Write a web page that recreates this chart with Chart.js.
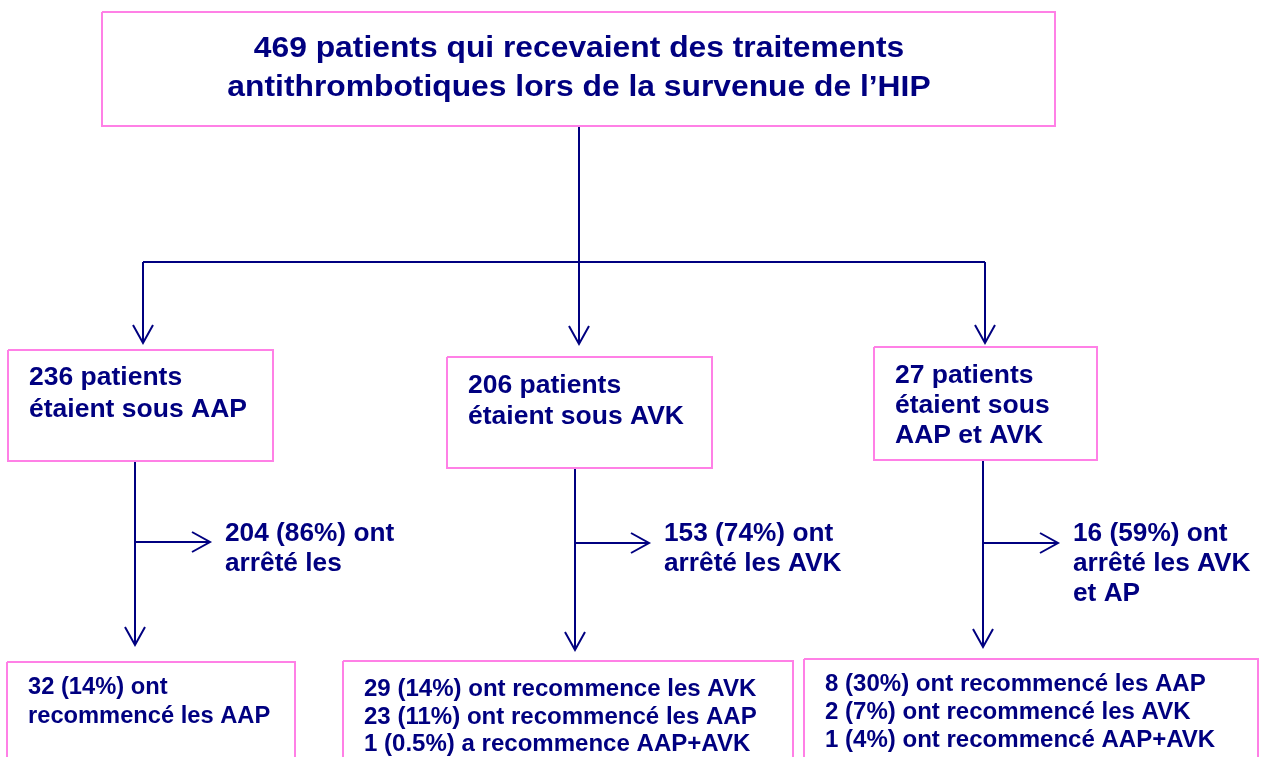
<!DOCTYPE html>
<html>
<head>
<meta charset="utf-8">
<script src="https://cdn.jsdelivr.net/npm/chart.js@4/dist/chart.umd.min.js"></script>
<style>
  html, body { margin: 0; padding: 0; background: #fff; }
  canvas { display: block; }
</style>
</head>
<body>
<canvas id="flow" width="1263" height="757"></canvas>
<script>
"use strict";

// Texts of the flow chart (the values)
const titleLines = ['469 patients qui recevaient des traitements', 'antithrombotiques lors de la survenue de l\u2019HIP'];
const groupLines = [
  ['236 patients', 'étaient sous AAP'],
  ['206 patients', 'étaient sous AVK'],
  ['27 patients', 'étaient sous', 'AAP et AVK']
];
const stoppedLines = [
  ['204 (86%) ont', 'arrêté les'],
  ['153 (74%) ont', 'arrêté les AVK'],
  ['16 (59%) ont', 'arrêté les AVK', 'et AP']
];
const restartLines = [
  ['32 (14%) ont', 'recommencé les AAP'],
  ['29 (14%) ont recommence les AVK', '23 (11%) ont recommencé les AAP', '1 (0.5%) a recommence AAP+AVK'],
  ['8 (30%) ont recommencé les AAP', '2 (7%) ont recommencé les AVK', '1 (4%) ont recommencé AAP+AVK']
];

// Layout (page units, y goes down)
const titleBox = { l: 102, t: 12, r: 1055, b: 126 };
const groupBoxes = [
  { l: 8, t: 350, r: 273, b: 461 },
  { l: 447, t: 357, r: 712, b: 468 },
  { l: 874, t: 347, r: 1097, b: 460 }
];
const restartBoxes = [
  { l: 7, t: 662, r: 295, b: 790 },
  { l: 343, t: 661, r: 793, b: 790 },
  { l: 804, t: 659, r: 1258, b: 790 }
];
const splitY = 262;
const splitX = [143, 579, 985];
const splitTip = [343, 344, 343];
const stemX = [135, 575, 983];
const stemTip = [645, 650, 647];
const sideY = [542, 543, 543];
const sideTip = [210, 649, 1058];

const navy = '#000080';
const pink = '#ff80e6';

function rect(b) {
  return [{ x: b.l, y: b.t }, { x: b.r, y: b.t }, { x: b.r, y: b.b }, { x: b.l, y: b.b }, { x: b.l, y: b.t }];
}
function seg(x1, y1, x2, y2) {
  return [{ x: x1, y: y1 }, { x: x2, y: y2 }];
}
function headDown(x, y) {
  return [{ x: x - 10, y: y - 18 }, { x: x, y: y }, { x: x + 10, y: y - 18 }];
}
function headRight(x, y) {
  return [{ x: x - 18, y: y - 10 }, { x: x, y: y }, { x: x - 18, y: y + 10 }];
}

const datasets = [];
function addLine(data, color, width) {
  datasets.push({
    data: data, borderColor: color, borderWidth: width, showLine: true,
    pointRadius: 0, fill: false, tension: 0, borderJoinStyle: 'miter'
  });
}

addLine(rect(titleBox), pink, 2);
groupBoxes.forEach(b => addLine(rect(b), pink, 2));
restartBoxes.forEach(b => addLine(rect(b), pink, 2));

addLine(seg(579, titleBox.b, 579, splitY), navy, 2);
addLine(seg(splitX[0], splitY, splitX[2], splitY), navy, 2);
splitX.forEach((x, i) => {
  addLine(seg(x, splitY, x, splitTip[i]), navy, 2);
  addLine(headDown(x, splitTip[i]), navy, 2);
});
stemX.forEach((x, i) => {
  addLine(seg(x, groupBoxes[i].b, x, stemTip[i]), navy, 2);
  addLine(headDown(x, stemTip[i]), navy, 2);
  addLine(seg(x, sideY[i], sideTip[i], sideY[i]), navy, 2);
  addLine(headRight(sideTip[i], sideY[i]), navy, 2);
});

// Text blocks: [lines, x, first baseline, line step, font size, stretch, align]
const textBlocks = [
  [titleLines, 579, 57, 39, 30, 1.06, 'center'],
  [groupLines[0], 29, 385, 32, 25, 1.06, 'left'],
  [groupLines[1], 468, 393, 31, 25, 1.06, 'left'],
  [groupLines[2], 895, 383, 30, 25, 1.06, 'left'],
  [stoppedLines[0], 225, 541, 30, 25, 1.05, 'left'],
  [stoppedLines[1], 664, 541, 30, 25, 1.05, 'left'],
  [stoppedLines[2], 1073, 541, 30, 25, 1.05, 'left'],
  [restartLines[0], 28, 694, 29, 23, 1.03, 'left'],
  [restartLines[1], 364, 696, 27.5, 23, 1.045, 'left'],
  [restartLines[2], 825, 691, 28, 23, 1.045, 'left']
];

const textPlugin = {
  id: 'flowText',
  afterDatasetsDraw(chart) {
    const ctx = chart.ctx;
    const xs = chart.scales.x, ys = chart.scales.y;
    ctx.save();
    ctx.fillStyle = navy;
    ctx.textBaseline = 'alphabetic';
    textBlocks.forEach(([lines, x, y, step, size, stretch, align]) => {
      ctx.font = 'bold ' + size + 'px "Liberation Sans", Arial, sans-serif';
      ctx.textAlign = align;
      lines.forEach((line, k) => {
        ctx.save();
        ctx.translate(xs.getPixelForValue(x), ys.getPixelForValue(y + k * step));
        ctx.scale(stretch, 1);
        ctx.fillText(line, 0, 0);
        ctx.restore();
      });
    });
    ctx.restore();
  }
};

new Chart(document.getElementById('flow').getContext('2d'), {
  type: 'scatter',
  data: { datasets: datasets },
  options: {
    responsive: false,
    animation: false,
    devicePixelRatio: 1,
    layout: { padding: 0 },
    plugins: { legend: { display: false }, tooltip: { enabled: false } },
    scales: {
      x: { type: 'linear', min: 0, max: 1263, display: false },
      y: { type: 'linear', min: 0, max: 757, reverse: true, display: false }
    }
  },
  plugins: [textPlugin]
});
</script>
</body>
</html>
